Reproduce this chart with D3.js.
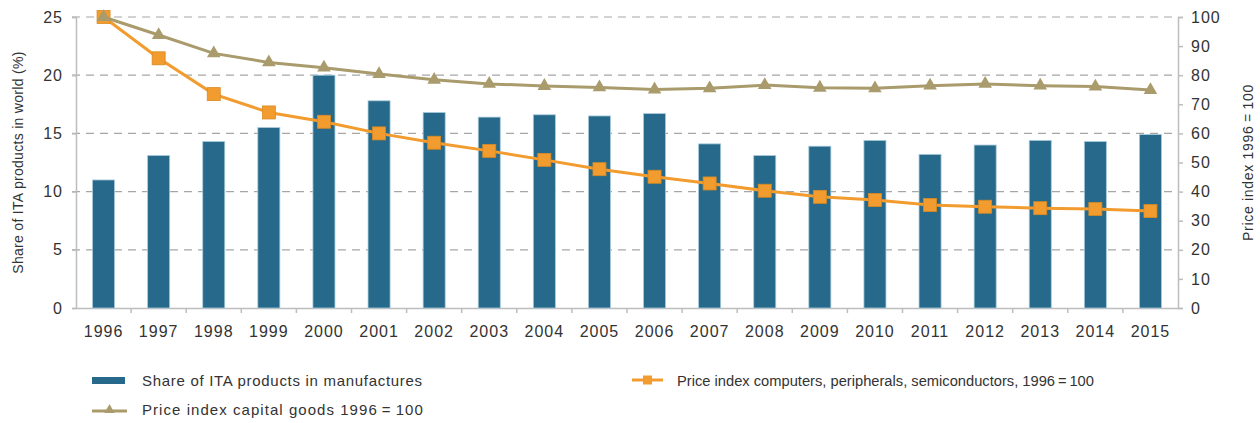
<!DOCTYPE html>
<html>
<head>
<meta charset="utf-8">
<script src="https://cdn.jsdelivr.net/npm/d3@7"></script>
<style>
  body { margin: 0; background: #fff; }
  svg text { font-family: "Liberation Sans", Arial, sans-serif; fill: #333; }
</style>
</head>
<body>
<div id="chart"></div>
<script>
// data
const years = ["1996","1997","1998","1999","2000","2001","2002","2003","2004","2005",
               "2006","2007","2008","2009","2010","2011","2012","2013","2014","2015"]
const shareITA = [11.0, 13.1, 14.3, 15.5, 20.0, 17.8, 16.8, 16.4, 16.6, 16.5,
                  16.7, 14.1, 13.1, 13.9, 14.4, 13.2, 14.0, 14.4, 14.3, 14.9]
const priceComputers = [100, 85.8, 73.5, 67.2, 64.0, 60.0, 56.8, 54.0, 50.9, 47.7,
                        45.1, 42.8, 40.3, 38.2, 37.1, 35.4, 34.8, 34.3, 34.0, 33.3]
const priceCapital = [100, 93.8, 87.5, 84.4, 82.6, 80.4, 78.4, 77.0, 76.3, 75.8,
                      75.1, 75.5, 76.6, 75.7, 75.5, 76.4, 77.0, 76.4, 76.1, 74.9]
const leftTicks = [0, 5, 10, 15, 20, 25]
const rightTicks = [0, 10, 20, 30, 40, 50, 60, 70, 80, 90, 100]

const W = 1260, H = 423
const margin = {top: 17, right: 82, bottom: 115, left: 76}
const width = W - margin.left - margin.right
const height = H - margin.top - margin.bottom

const colBar = "#26698a", colOrange = "#f29b2e", colOlive = "#a99b6c", colAxis = "#bdbdbd"

var svg = d3.select("#chart")
  .append("svg")
  .attr("width", W)
  .attr("height", H)
var g = svg.append("g")
  .attr("transform", "translate(" + margin.left + "," + margin.top + ")")

var x = d3.scaleBand().domain(years).range([0, width]).paddingInner(0.6).paddingOuter(0.3)
var xc = d => x(d) + x.bandwidth() / 2
var yL = d3.scaleLinear().domain([0, 25]).range([height, 0])
var yR = d3.scaleLinear().domain([0, 100]).range([height, 0])

// dashed grid
g.selectAll(".grid")
  .data(leftTicks.filter(d => d > 0))
  .enter().append("line")
  .attr("x1", -4).attr("x2", width)
  .attr("y1", d => yL(d)).attr("y2", d => yL(d))
  .attr("stroke", "#a6a6a6")
  .attr("stroke-width", 1.2)
  .attr("stroke-dasharray", "8,6")

// left axis
var la = g.append("g").call(d3.axisLeft(yL).tickValues(leftTicks).tickSize(4).tickPadding(9))
la.select(".domain").attr("stroke", colAxis).attr("stroke-width", 1.5)
la.selectAll(".tick line").attr("stroke", colAxis).attr("stroke-width", 1.5)
la.selectAll("text").style("font-size", "16px").style("letter-spacing", "1px").attr("fill", "#333")

// right axis
var ra = g.append("g").attr("transform", "translate(" + width + ",0)")
  .call(d3.axisRight(yR).tickValues(rightTicks).tickSize(5).tickPadding(8))
ra.select(".domain").attr("stroke", colAxis).attr("stroke-width", 1.5)
ra.selectAll(".tick line").attr("stroke", colAxis).attr("stroke-width", 1.5)
ra.selectAll("text").style("font-size", "16px").style("letter-spacing", "1px").attr("fill", "#333")

// x axis
var xa = g.append("g").attr("transform", "translate(0," + height + ")")
  .call(d3.axisBottom(x).tickSize(0).tickPadding(18))
xa.select(".domain").attr("stroke", colAxis).attr("stroke-width", 1.5)
xa.selectAll("text").style("font-size", "16px").style("letter-spacing", "1px").attr("fill", "#333")
// small ticks between categories
g.selectAll(".xtick")
  .data(years.slice(1))
  .enter().append("line")
  .attr("x1", d => x(d) - x.step() * 0.3).attr("x2", d => x(d) - x.step() * 0.3)
  .attr("y1", height).attr("y2", height + 5)
  .attr("stroke", colAxis).attr("stroke-width", 1.5)

// bars
g.selectAll(".bar")
  .data(shareITA)
  .enter().append("rect")
  .attr("x", (d, i) => x(years[i]))
  .attr("y", d => yL(d))
  .attr("width", x.bandwidth())
  .attr("height", d => height - yL(d))
  .attr("fill", colBar)
  .attr("stroke", "#a9cbdc")
  .attr("stroke-width", 0.8)

var line = d3.line().x((d, i) => xc(years[i])).y(d => yR(d))

// computers line (squares)
g.append("path").datum(priceComputers)
  .attr("d", line).attr("fill", "none")
  .attr("stroke", colOrange).attr("stroke-width", 3)
g.selectAll(".sq")
  .data(priceComputers)
  .enter().append("rect")
  .attr("x", (d, i) => xc(years[i]) - 6.5)
  .attr("y", d => yR(d) - 6.5)
  .attr("width", 13).attr("height", 13)
  .attr("fill", colOrange)
  .attr("stroke", "#d98a22").attr("stroke-width", 0.8)

// capital goods line (triangles)
g.append("path").datum(priceCapital)
  .attr("d", line).attr("fill", "none")
  .attr("stroke", colOlive).attr("stroke-width", 3)
var tri = d3.symbol().type(d3.symbolTriangle).size(80)
g.selectAll(".tri")
  .data(priceCapital)
  .enter().append("path")
  .attr("d", tri)
  .attr("transform", (d, i) => "translate(" + xc(years[i]) + "," + yR(d) + ")")
  .attr("fill", colOlive)

// axis titles
svg.append("text")
  .attr("transform", "translate(23," + (margin.top + height / 2) + ") rotate(-90)")
  .attr("text-anchor", "middle")
  .style("font-size", "14px")
  .style("letter-spacing", "0.3px")
  .text("Share of ITA products in world (%)")
svg.append("text")
  .attr("transform", "translate(1253," + (margin.top + height / 2) + ") rotate(-90)")
  .attr("text-anchor", "middle")
  .style("font-size", "14px")
  .style("letter-spacing", "0.7px")
  .text("Price index 1996\u2009=\u2009100")

// legend
var lg = svg.append("g").style("font-size", "15px")
lg.append("rect").attr("x", 92).attr("y", 377).attr("width", 33).attr("height", 7).attr("fill", colBar)
lg.append("text").attr("x", 142).attr("y", 386).style("letter-spacing", "0.7px")
  .text("Share of ITA products in manufactures")

lg.append("line").attr("x1", 92).attr("x2", 127).attr("y1", 411).attr("y2", 411)
  .attr("stroke", colOlive).attr("stroke-width", 3)
lg.append("path").attr("d", d3.symbol().type(d3.symbolTriangle).size(45))
  .attr("transform", "translate(109.5,410)").attr("fill", colOlive)
lg.append("text").attr("x", 142).attr("y", 415).style("letter-spacing", "1.05px")
  .text("Price index capital goods 1996\u2009=\u2009100")

lg.append("line").attr("x1", 632).attr("x2", 663).attr("y1", 380).attr("y2", 380)
  .attr("stroke", colOrange).attr("stroke-width", 3)
lg.append("rect").attr("x", 643).attr("y", 375.5).attr("width", 9).attr("height", 9).attr("fill", colOrange)
lg.append("text").attr("x", 677).attr("y", 386).style("font-size", "14.7px")
  .text("Price index computers, peripherals, semiconductors, 1996\u2009=\u2009100")
</script>
</body>
</html>
